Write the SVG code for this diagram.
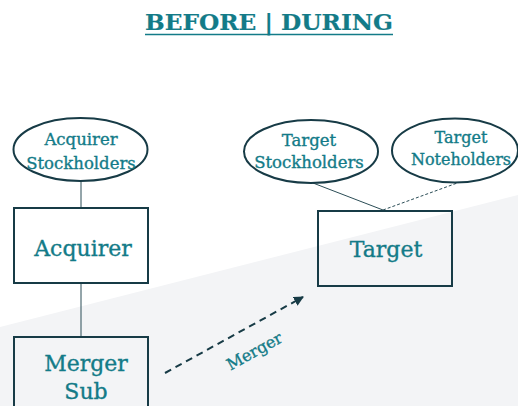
<svg xmlns="http://www.w3.org/2000/svg" width="518" height="406" viewBox="0 0 518 406">
<style>
.t{font-family:"DejaVu Serif","Liberation Serif",serif;fill:#137b88;text-anchor:middle;stroke:#137b88;stroke-width:0.35}
.box{fill:none;stroke:#173b46;stroke-width:2}
.ell{fill:#fff;stroke:#173b46;stroke-width:2}
.conn{stroke:#2b4d56;stroke-width:1;fill:none}
</style>
<defs>
<marker id="ah" viewBox="0 0 10 10" refX="9" refY="5" markerWidth="5" markerHeight="5" orient="auto" markerUnits="strokeWidth">
<path d="M0,0 L10,5 L0,10 z" fill="#173b46"/>
</marker>
</defs>
<rect width="518" height="406" fill="#fff"/>
<polygon points="0,327 518,195 518,406 0,406" fill="#f3f4f6"/>
<g id="title">
<text class="t" x="269" y="30" font-size="22" font-weight="bold" textLength="248" lengthAdjust="spacingAndGlyphs" style="stroke-width:0.2">BEFORE | DURING</text>
<line x1="145" y1="34.5" x2="393" y2="34.5" stroke="#137b88" stroke-width="1.6"/>
</g>
<g id="connectors">
<line class="conn" x1="81" y1="181" x2="81" y2="207" stroke="#5f7c82"/>
<line class="conn" x1="81" y1="284" x2="81" y2="336" stroke="#5f7c82"/>
<line class="conn" x1="313" y1="183" x2="383" y2="210"/>
<line class="conn" x1="383" y1="210" x2="460" y2="182" stroke-dasharray="3,2"/>
<line x1="165" y1="373" x2="303" y2="297" stroke="#173b46" stroke-width="2" stroke-dasharray="7,5" marker-end="url(#ah)"/>
<text class="t" x="0" y="0" font-size="16" transform="translate(257,356) rotate(-29)">Merger</text>
</g>
<g id="acquirer-stockholders">
<ellipse class="ell" cx="80.5" cy="149.5" rx="67" ry="31.5"/>
<text class="t" x="81" y="145" font-size="16.5">Acquirer</text>
<text class="t" x="81" y="169" font-size="16.5">Stockholders</text>
</g>
<g id="acquirer">
<rect class="box" x="14" y="208" width="134" height="75" fill="#fff"/>
<text class="t" x="83" y="256" font-size="22">Acquirer</text>
</g>
<g id="merger-sub">
<rect class="box" x="14" y="337" width="134" height="80"/>
<text class="t" x="86" y="371" font-size="22">Merger</text>
<text class="t" x="86" y="399" font-size="22">Sub</text>
</g>
<g id="target-stockholders">
<ellipse class="ell" cx="311" cy="151.5" rx="67" ry="31.5"/>
<text class="t" x="309" y="146" font-size="16.5">Target</text>
<text class="t" x="309" y="168" font-size="16.5">Stockholders</text>
</g>
<g id="target-noteholders">
<ellipse class="ell" cx="455" cy="150.5" rx="63" ry="32"/>
<text class="t" x="461" y="143" font-size="16">Target</text>
<text class="t" x="461" y="165" font-size="16">Noteholders</text>
</g>
<g id="target">
<rect class="box" x="318" y="211" width="134" height="75"/>
<text class="t" x="386" y="257" font-size="22">Target</text>
</g>
</svg>
